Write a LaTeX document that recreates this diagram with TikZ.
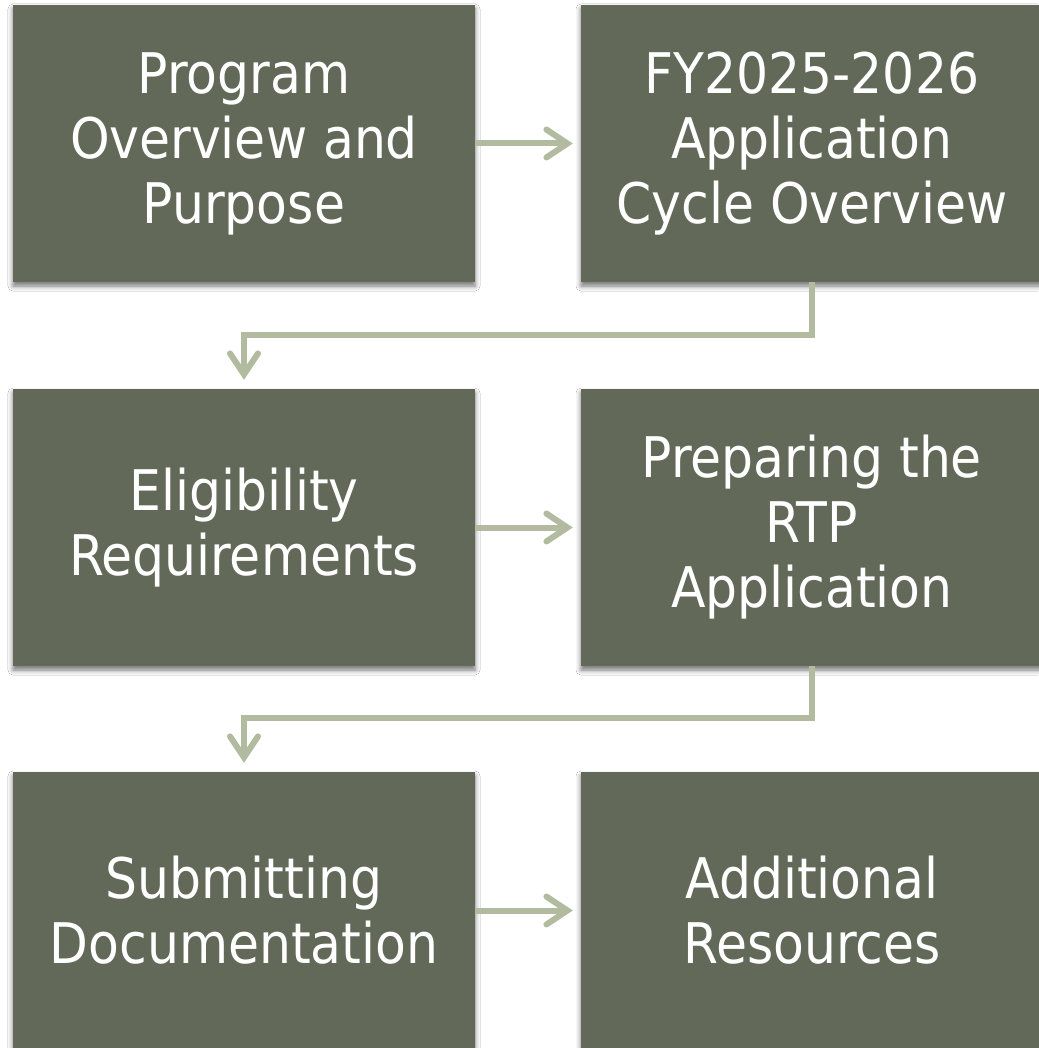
\documentclass[tikz,border=0pt]{standalone}
\usepackage{fontspec}
\setmainfont{DejaVu Sans Condensed}
\usetikzlibrary{arrows.meta,shadows.blur}
\definecolor{boxc}{HTML}{636958}
\definecolor{linec}{HTML}{B2BBA0}
\begin{document}
\begin{tikzpicture}[x=1pt,y=-1pt,
  stepbox/.style={rectangle, fill=boxc, text=white, minimum width=462pt, minimum height=277pt, inner sep=0pt, align=center, font=\fontsize{56}{65}\selectfont, blur shadow={shadow xshift=0pt, shadow yshift=-4pt, shadow blur radius=5pt, shadow opacity=55}},
  conn/.style={draw=linec, line width=6pt, -{Straight Barb[length=21pt,width=28pt,line cap=round]}}]
\fill[white] (0,0) rectangle (1038,1048);
\useasboundingbox (0,0) rectangle (1038,1048);
\node[stepbox] (a) at (244,143.5) {Program\\Overview and\\Purpose};
\node[stepbox] (b) at (812,143.5) {FY2025-2026\\Application\\Cycle Overview};
\node[stepbox] (c) at (244,527.5) {Eligibility\\Requirements};
\node[stepbox] (d) at (812,527.5) {Preparing the\\RTP\\Application};
\node[stepbox] (e) at (244,910.5) {Submitting\\Documentation};
\node[stepbox] (f) at (812,910.5) {Additional\\Resources};
\draw[conn, shorten >=8pt] (a.east) -- (b.west);
\draw[conn, shorten >=8pt] (c.east) -- (d.west);
\draw[conn, shorten >=8pt] (e.east) -- (f.west);
\draw[conn, shorten >=9pt] (b.south) -- ++(0,53) -| (c.north);
\draw[conn, shorten >=9pt] (d.south) -- ++(0,52) -| (e.north);
\end{tikzpicture}
\end{document}
